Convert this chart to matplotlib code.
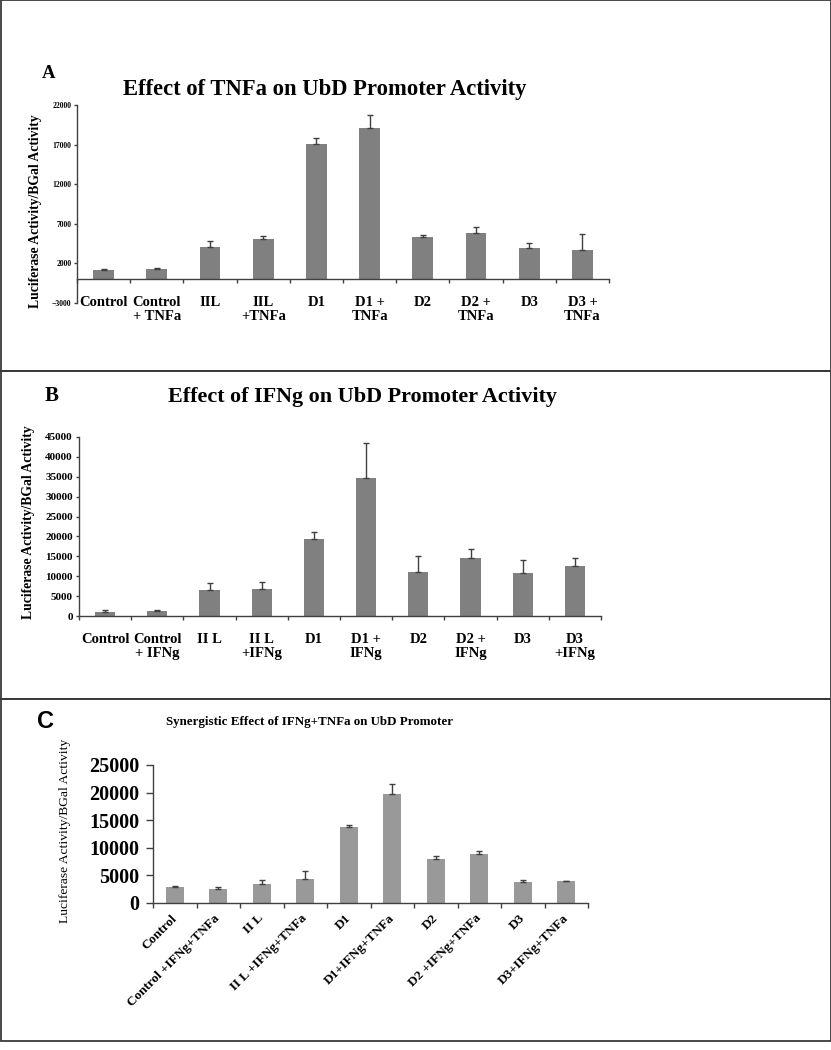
import numpy as np
import matplotlib
matplotlib.use("Agg")
import matplotlib.pyplot as plt
from matplotlib.patches import Rectangle

# ---- data ----
labels_a = ["Control", "Control\n+ TNFa", "IIL", "IIL\n+TNFa", "D1", "D1 +\nTNFa",
            "D2", "D2 +\nTNFa", "D3", "D3 +\nTNFa"]
values_a = [1150, 1280, 4090, 5060, 17060, 19080, 5320, 5820, 4000, 3710]
errors_a = [200, 170, 800, 380, 760, 1640, 290, 800, 560, 1940]

labels_b = ["Control", "Control\n+ IFNg", "II L", "II L\n+IFNg", "D1", "D1 +\nIFNg",
            "D2", "D2 +\nIFNg", "D3", "D3\n+IFNg"]
values_b = [1170, 1400, 6510, 6840, 19430, 34710, 11020, 14600, 10770, 12520]
errors_b = [330, 180, 1900, 1750, 1670, 8680, 4150, 2170, 3240, 2000]

labels_c = ["Control", "Control +IFNg+TNFa", "II L", "II L +IFNg+TNFa", "D1",
            "D1+IFNg+TNFa", "D2", "D2 +IFNg+TNFa", "D3", "D3+IFNg+TNFa"]
values_c = [2900, 2420, 3390, 4300, 13750, 19680, 7940, 8900, 3690, 3870]
errors_c = [80, 480, 790, 1390, 420, 1950, 600, 430, 480, 120]

W, H = 831, 1050
SERIF = "Liberation Serif"
AXC = "#404040"

fig = plt.figure(figsize=(W / 100, H / 100), dpi=100)


def px_axes(x0, x1, ytop, ybot):
    return fig.add_axes([x0 / W, 1 - ybot / H, (x1 - x0) / W, (ybot - ytop) / H])


def ftext(x, y, s, **kw):
    fig.text(x / W, 1 - y / H, s, ha="center", va="center", **kw)


def bar_panel(ax, labels, values, errors, color, width, ylim, yticks,
              ytick_size, ytick_len, xtick_len):
    n = len(values)
    x = np.arange(n)
    ax.bar(x, values, width=width, color=color, zorder=2)
    ax.errorbar(x, values, yerr=[np.zeros(n), errors], fmt="none",
                ecolor=AXC, elinewidth=1.0, capsize=2.5, capthick=1.0, zorder=3)
    ax.set_xlim(-0.5, n - 0.5)
    ax.set_ylim(*ylim)
    ax.set_yticks(yticks)
    for s in ("top", "right"):
        ax.spines[s].set_visible(False)
    for s in ("left", "bottom"):
        ax.spines[s].set_color(AXC)
        ax.spines[s].set_linewidth(1.0)
    ax.spines["bottom"].set_position(("data", 0))
    ax.set_xticks(x)
    ax.set_xticks(np.arange(n + 1) - 0.5, minor=True)
    ax.tick_params(axis="x", which="major", length=0)
    ax.tick_params(axis="x", which="minor", length=xtick_len, width=1.0,
                   color=AXC, direction="out")
    ax.tick_params(axis="y", length=ytick_len, width=1.0, color=AXC,
                   direction="out", pad=2)
    for t in ax.get_yticklabels():
        t.set_fontfamily(SERIF)
        t.set_fontweight("bold")
        t.set_fontsize(ytick_size)


# ---- panel borders ----
for (y0, y1) in [(0.5, 371), (371, 699), (699, 1041)]:
    fig.add_artist(Rectangle((0.5 / W, 1 - y1 / H), 830 / W, (y1 - y0) / H,
                             transform=fig.transFigure, fill=False,
                             edgecolor="#3a3a3a", linewidth=1.3))

# ---- Panel A ----
axa = px_axes(77, 609, 105, 303)
bar_panel(axa, labels_a, values_a, errors_a, "#808080", 0.39, (-3000, 22000),
          np.arange(-3000, 22001, 5000), 5.5, 2, 3)
axa.set_xticklabels(labels_a, fontfamily=SERIF, fontweight="bold", fontsize=10.5,
                    linespacing=1.1)
axa.tick_params(axis="x", which="major", pad=12)
ftext(49, 73, "A", fontfamily=SERIF, fontweight="bold", fontsize=13.5)
ftext(325, 89, "Effect of TNFa on UbD Promoter Activity", fontfamily=SERIF,
      fontweight="bold", fontsize=16.3)
ftext(36, 211, "Luciferase Activity/BGal Activity", rotation=90,
      fontfamily=SERIF, fontweight="bold", fontsize=9.8)

# ---- Panel B ----
axb = px_axes(79, 601, 436.7, 616.3)
bar_panel(axb, labels_b, values_b, errors_b, "#808080", 0.39, (0, 45000),
          np.arange(0, 45001, 5000), 8, 2.5, 3)
axb.set_xticklabels(labels_b, fontfamily=SERIF, fontweight="bold", fontsize=10.5,
                    linespacing=1.1)
axb.tick_params(axis="x", which="major", pad=12)
ftext(52, 396, "B", fontfamily=SERIF, fontweight="bold", fontsize=15)
ftext(363, 397, "Effect of IFNg on UbD Promoter Activity", fontfamily=SERIF,
      fontweight="bold", fontsize=15.9)
ftext(29, 522, "Luciferase Activity/BGal Activity", rotation=90,
      fontfamily=SERIF, fontweight="bold", fontsize=9.8)

# ---- Panel C ----
axc = px_axes(153, 588, 765, 902.7)
bar_panel(axc, labels_c, values_c, errors_c, "#999999", 0.41, (0, 25000),
          np.arange(0, 25001, 5000), 14.5, 5, 3.5)
axc.set_xticklabels(labels_c, fontfamily=SERIF, fontweight="bold", fontsize=9.5,
                    rotation=45, ha="right", va="center", rotation_mode="anchor")
axc.tick_params(axis="x", which="major", pad=10)
axc.tick_params(axis="y", pad=5)
ftext(45, 722, "C", fontfamily="Liberation Sans", fontweight="bold", fontsize=17)
ftext(309, 722, "Synergistic Effect of IFNg+TNFa on UbD Promoter",
      fontfamily=SERIF, fontweight="bold", fontsize=9.4)
ftext(65, 831, "Luciferase Activity/BGal Activity", rotation=90,
      fontfamily=SERIF, fontsize=9.7)

fig.savefig("out.png", dpi=100, facecolor="white")
